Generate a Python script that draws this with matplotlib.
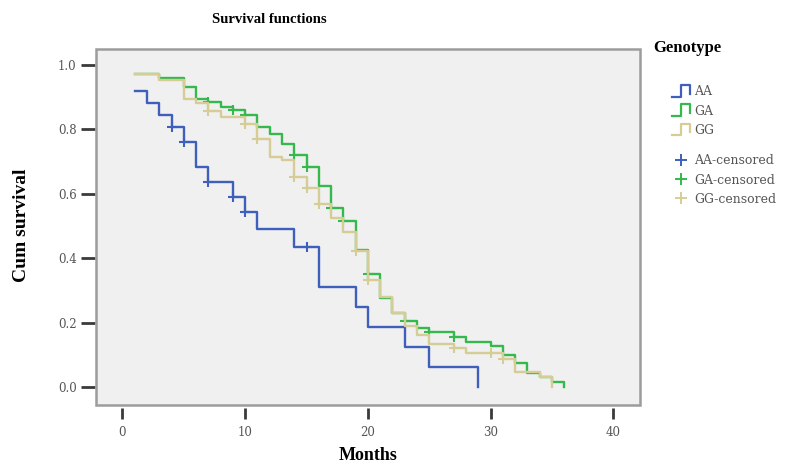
import numpy as np
import matplotlib.pyplot as plt
from matplotlib.lines import Line2D
from matplotlib.patches import Rectangle
from matplotlib.legend_handler import HandlerBase

# ---------------------------------
# Kaplan-Meier step values (time in months, cum survival)
aa_time = [1, 2, 3, 4, 5, 6, 7, 9, 10, 11, 14, 16, 19, 20, 23, 25, 29]
aa_surv = [0.92, 0.882, 0.845, 0.807, 0.76, 0.683, 0.636, 0.59, 0.543, 0.49,
           0.435, 0.31, 0.249, 0.187, 0.124, 0.062, 0.0]
aa_cens = [4, 5, 7, 9, 10, 15]

ga_time = [1, 3, 5, 6, 7, 8, 9, 10, 11, 12, 13, 14, 15, 16, 17, 18, 19, 20,
           21, 22, 23, 24, 25, 27, 28, 30, 31, 32, 33, 34, 35, 36]
ga_surv = [0.972, 0.959, 0.932, 0.895, 0.885, 0.87, 0.86, 0.845, 0.808, 0.786,
           0.755, 0.72, 0.683, 0.625, 0.556, 0.517, 0.425, 0.352, 0.277, 0.23,
           0.206, 0.183, 0.172, 0.156, 0.141, 0.126, 0.1, 0.073, 0.045, 0.03,
           0.016, 0.0]
ga_cens = [7, 9, 10, 14, 15, 17, 18, 20, 23, 25, 27]

gg_time = [1, 3, 5, 6, 7, 8, 10, 11, 12, 13, 14, 15, 16, 17, 18, 19, 20, 21,
           22, 23, 24, 25, 27, 28, 31, 32, 34, 35]
gg_surv = [0.972, 0.955, 0.896, 0.881, 0.857, 0.84, 0.817, 0.77, 0.715, 0.704,
           0.652, 0.618, 0.57, 0.524, 0.482, 0.422, 0.333, 0.28, 0.23, 0.19,
           0.16, 0.134, 0.12, 0.105, 0.088, 0.047, 0.03, 0.0]
gg_cens = [7, 10, 11, 14, 15, 16, 19, 20, 27, 30, 31]

groups = ["AA", "GA", "GG"]
colors = ["#3f5fbd", "#35b84c", "#d6cd96"]

x_ticks = [0, 10, 20, 30, 40]
y_ticks = [0.0, 0.2, 0.4, 0.6, 0.8, 1.0]

serif = "Liberation Serif"
small_font = "DejaVu Serif"


def surv_at(times, surv, t):
    # value of the step function (right continuous) at time t
    i = np.searchsorted(times, t, side="right") - 1
    return np.asarray(surv)[i]


class StepHandler(HandlerBase):
    # little "_|-|" icon like the SPSS legend
    def create_artists(self, legend, orig, xd, yd, w, h, fontsize, trans):
        xs = np.array([0.0, 0.5, 0.5, 1.0, 1.0]) * w - xd
        ys = np.array([0.0, 0.0, 1.0, 1.0, 0.25]) * h * 1.3 - yd - 0.15 * h
        ln = Line2D(xs, ys, color=orig.get_color(), lw=1.6, transform=trans)
        return [ln]


fig = plt.figure(figsize=(7.98, 4.65), dpi=100)
ax = fig.add_axes([0.1203, 0.129, 0.6817, 0.7656])
ax.set_facecolor("#f0f0f0")

data = [(aa_time, aa_surv, aa_cens), (ga_time, ga_surv, ga_cens),
        (gg_time, gg_surv, gg_cens)]

# draw tan first so the green sits on top like the original
for k in [2, 0, 1]:
    tt, ss, cc = data[k]
    ax.step(tt, ss, where="post", color=colors[k], lw=1.7, zorder=3 + k)
    cy = [surv_at(tt, ss, c) for c in cc]
    ax.plot(cc, cy, ls="none", marker="+", ms=6.5, mew=1.5, color=colors[k],
            zorder=3 + k)

line_handles = [Line2D([], [], color=c, lw=1.6) for c in colors]
cens_handles = [Line2D([], [], ls="none", marker="+", ms=8, mew=1.4, color=c)
                for c in colors]

ax.set_xlim(-2.16, 42.18)
ax.set_ylim(-0.056, 1.05)

for s in ax.spines.values():
    s.set_visible(False)
ax.spines["bottom"].set_position(("outward", 2))
ax.spines["left"].set_position(("outward", 1))
ax.add_patch(Rectangle((0, 0), 1, 1, transform=ax.transAxes, fill=False,
                       edgecolor="#9c9c9c", lw=1.8, clip_on=False, zorder=10))

ax.set_xticks(x_ticks)
ax.set_yticks(y_ticks)
ax.set_yticklabels(["%.1f" % v for v in y_ticks])
ax.tick_params(axis="both", direction="out", color="#3a3a3a", width=2,
               labelcolor="#555555", labelsize=8.5)
ax.tick_params(axis="x", length=8, pad=5)
ax.tick_params(axis="y", length=10, pad=3)
for lab in ax.get_xticklabels() + ax.get_yticklabels():
    lab.set_fontfamily(small_font)

fig.text(0.338, 0.958, "Survival functions", ha="center", va="center",
         family=serif, weight="bold", fontsize=10.5)
fig.text(0.461, 0.02, "Months", ha="center", va="center",
         family=serif, weight="bold", fontsize=13)
fig.text(0.027, 0.515, "Cum survival", ha="center", va="center",
         rotation=90, family=serif, weight="bold", fontsize=14)

# legend: title, the three curves, then the three censored markers
fig.text(653 / 798, 1 - 48 / 465, "Genotype", ha="left", va="center",
         family=serif, weight="bold", fontsize=12)
leg_kw = dict(loc="center left", frameon=False, borderaxespad=0, borderpad=0,
              prop={"family": small_font, "size": 9}, labelspacing=0.5,
              handlelength=1.45, handletextpad=0.35)
leg1 = fig.legend(line_handles, groups,
                  handler_map={h: StepHandler() for h in line_handles},
                  bbox_to_anchor=(672 / 798, 1 - 111 / 465), **leg_kw)
leg2 = fig.legend(cens_handles, [g + "-censored" for g in groups],
                  bbox_to_anchor=(672 / 798, 1 - 180 / 465), **leg_kw)
for lg in (leg1, leg2):
    for t in lg.get_texts():
        t.set_color("#555555")

fig.savefig("out.png", dpi=100)
plt.close()
